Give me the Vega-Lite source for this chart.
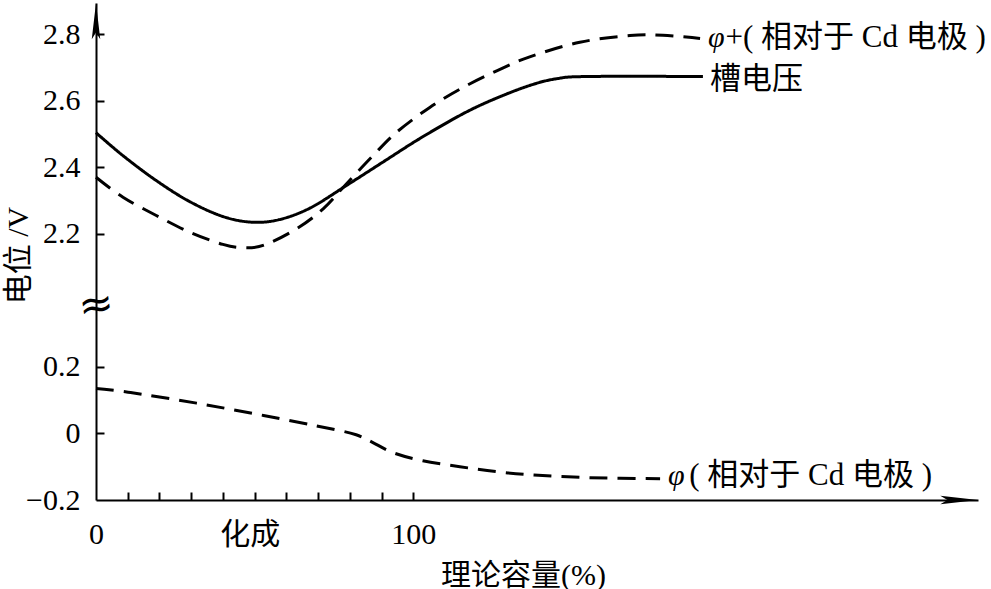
{
  "$schema": "https://vega.github.io/schema/vega-lite/v6.json",
  "autosize": {"type": "none"},
  "width": 882,
  "height": 497,
  "padding": {"left": 96, "top": 3, "right": 13, "bottom": 89},
  "background": "white",
  "config": {
    "view": {"stroke": null},
    "font": "Liberation Serif, Noto Sans CJK SC",
    "axis": {"domainColor": "black", "domainWidth": 2, "tickColor": "black", "tickWidth": 2, "labelColor": "black", "titleColor": "black", "grid": false, "labelFont": "Liberation Serif, Noto Sans CJK SC", "titleFont": "Liberation Serif, Noto Sans CJK SC", "labelFontSize": 30, "titleFontSize": 30, "titleFontWeight": "normal"}
  },
  "encoding": {
    "x": {
      "field": "x", "type": "quantitative",
      "scale": {"domain": [0, 278], "nice": false, "zero": false},
      "axis": {
        "values": [0, 10, 20, 30, 40, 48.5, 50, 60, 70, 80, 90, 100],
        "tickSize": -8,
        "tickOpacity": {"condition": {"test": "datum.value === 48.5 || datum.value === 0", "value": 0}, "value": 1},
        "labelExpr": "datum.value === 0 ? '0' : datum.value === 100 ? '100' : datum.value === 48.5 ? '化成' : ''",
        "labelPadding": 27,
        "labelOverlap": false,
        "labelFlush": false,
        "title": "理论容量(%)",
        "titleX": 427,
        "titleY": 84,
        "titleAlign": "center",
        "titleBaseline": "alphabetic",
        "titleAnchor": null
      }
    },
    "y": {
      "field": "y", "type": "quantitative",
      "scale": {"domain": [-0.2, 0.4, 2.0, 2.894], "range": [497, 297.3, 297.3, 0], "nice": false, "zero": false},
      "axis": {
        "values": [-0.2, 0, 0.2, 2.2, 2.4, 2.6, 2.8],
        "tickSize": -8,
        "tickOpacity": {"condition": {"test": "datum.value === -0.2", "value": 0}, "value": 1},
        "labelExpr": "datum.value === -0.2 ? '−0.2' : datum.value === 0 ? '0' : format(datum.value, '.1f')",
        "labelPadding": 24,
        "labelOverlap": false,
        "labelFlush": false,
        "title": "电位 /V",
        "titleX": -78,
        "titleY": 252,
        "titleAngle": 270,
        "titleAlign": "center",
        "titleBaseline": "middle",
        "titleAnchor": null
      }
    }
  },
  "layer": [
    {
      "data": {"values": [
        {"series": "槽电压", "dash": "solid", "x": 0, "y": 2.504},
        {"series": "槽电压", "dash": "solid", "x": 8.5, "y": 2.435},
        {"series": "槽电压", "dash": "solid", "x": 19, "y": 2.36},
        {"series": "槽电压", "dash": "solid", "x": 29.5, "y": 2.297},
        {"series": "槽电压", "dash": "solid", "x": 40, "y": 2.252},
        {"series": "槽电压", "dash": "solid", "x": 49, "y": 2.235},
        {"series": "槽电压", "dash": "solid", "x": 57.5, "y": 2.242},
        {"series": "槽电压", "dash": "solid", "x": 67.4, "y": 2.277},
        {"series": "槽电压", "dash": "solid", "x": 78.9, "y": 2.345},
        {"series": "槽电压", "dash": "solid", "x": 90.5, "y": 2.416},
        {"series": "槽电压", "dash": "solid", "x": 102, "y": 2.486},
        {"series": "槽电压", "dash": "solid", "x": 115.7, "y": 2.561},
        {"series": "槽电压", "dash": "solid", "x": 126, "y": 2.607},
        {"series": "槽电压", "dash": "solid", "x": 136.7, "y": 2.646},
        {"series": "槽电压", "dash": "solid", "x": 145, "y": 2.666},
        {"series": "槽电压", "dash": "solid", "x": 155, "y": 2.673},
        {"series": "槽电压", "dash": "solid", "x": 191.3, "y": 2.673},
        {"series": "φ+", "dash": "dashed", "x": 0, "y": 2.37},
        {"series": "φ+", "dash": "dashed", "x": 8.5, "y": 2.31},
        {"series": "φ+", "dash": "dashed", "x": 19, "y": 2.255},
        {"series": "φ+", "dash": "dashed", "x": 29.5, "y": 2.205},
        {"series": "φ+", "dash": "dashed", "x": 40, "y": 2.168},
        {"series": "φ+", "dash": "dashed", "x": 46.5, "y": 2.158},
        {"series": "φ+", "dash": "dashed", "x": 53, "y": 2.166},
        {"series": "φ+", "dash": "dashed", "x": 63.2, "y": 2.215},
        {"series": "φ+", "dash": "dashed", "x": 71.6, "y": 2.275},
        {"series": "φ+", "dash": "dashed", "x": 78.9, "y": 2.35},
        {"series": "φ+", "dash": "dashed", "x": 87.3, "y": 2.435},
        {"series": "φ+", "dash": "dashed", "x": 94.7, "y": 2.505},
        {"series": "φ+", "dash": "dashed", "x": 105.2, "y": 2.58},
        {"series": "φ+", "dash": "dashed", "x": 115.7, "y": 2.64},
        {"series": "φ+", "dash": "dashed", "x": 126.3, "y": 2.69},
        {"series": "φ+", "dash": "dashed", "x": 136.7, "y": 2.732},
        {"series": "φ+", "dash": "dashed", "x": 152.5, "y": 2.776},
        {"series": "φ+", "dash": "dashed", "x": 168.3, "y": 2.796},
        {"series": "φ+", "dash": "dashed", "x": 178.7, "y": 2.797},
        {"series": "φ+", "dash": "dashed", "x": 190.4, "y": 2.787},
        {"series": "φ", "dash": "dashed", "x": 0, "y": 0.135},
        {"series": "φ", "dash": "dashed", "x": 10.9, "y": 0.123},
        {"series": "φ", "dash": "dashed", "x": 31.7, "y": 0.091},
        {"series": "φ", "dash": "dashed", "x": 52.8, "y": 0.054},
        {"series": "φ", "dash": "dashed", "x": 74, "y": 0.014},
        {"series": "φ", "dash": "dashed", "x": 82, "y": -0.004},
        {"series": "φ", "dash": "dashed", "x": 87, "y": -0.026},
        {"series": "φ", "dash": "dashed", "x": 93.7, "y": -0.058},
        {"series": "φ", "dash": "dashed", "x": 103, "y": -0.082},
        {"series": "φ", "dash": "dashed", "x": 114.7, "y": -0.1},
        {"series": "φ", "dash": "dashed", "x": 126.4, "y": -0.115},
        {"series": "φ", "dash": "dashed", "x": 138, "y": -0.125},
        {"series": "φ", "dash": "dashed", "x": 155.7, "y": -0.133},
        {"series": "φ", "dash": "dashed", "x": 177.8, "y": -0.136}
      ]},
      "mark": {"type": "line", "interpolate": "cardinal", "color": "black", "strokeWidth": 3},
      "encoding": {
        "detail": {"field": "series", "type": "nominal"},
        "strokeDash": {"field": "dash", "type": "nominal", "scale": {"domain": ["solid", "dashed"], "range": [[1, 0], [18, 10]]}, "legend": null}
      }
    },
    {
      "data": {"values": [{"x": 0, "y": 2.894}]},
      "mark": {"type": "point", "shape": "M0,0L0.34,2.9L0,2.35L-0.34,2.9Z", "filled": true, "color": "black", "size": 625, "opacity": 1, "clip": false}
    },
    {
      "data": {"values": [{"x": 278, "y": -0.2}]},
      "mark": {"type": "point", "shape": "M0,0L-2.9,-0.33L-2.35,0L-2.9,0.33Z", "filled": true, "color": "black", "size": 676, "opacity": 1, "clip": false}
    },
    {
      "data": {"values": [{"x": 0, "y": 0.385, "t": "≈"}]},
      "mark": {"type": "text", "font": "DejaVu Sans", "fontSize": 42, "align": "center", "baseline": "middle", "color": "black", "angle": -8},
      "encoding": {"text": {"field": "t"}}
    },
    {
      "data": {"values": [
        {"x": 192.9, "y": 2.789, "t": "φ"},
        {"x": 180.3, "y": -0.128, "t": "φ"}
      ]},
      "mark": {"type": "text", "fontSize": 30, "fontStyle": "italic", "align": "left", "baseline": "middle", "color": "black"},
      "encoding": {"text": {"field": "t"}}
    },
    {
      "data": {"values": [
        {"x": 198.4, "y": 2.789, "t": "+( 相对于  Cd  电极  )"},
        {"x": 193.5, "y": 2.6625, "t": "槽电压"},
        {"x": 187.0, "y": -0.128, "t": "( 相对于  Cd  电极 )"}
      ]},
      "mark": {"type": "text", "fontSize": 31, "align": "left", "baseline": "middle", "color": "black"},
      "encoding": {"text": {"field": "t"}}
    }
  ]
}
